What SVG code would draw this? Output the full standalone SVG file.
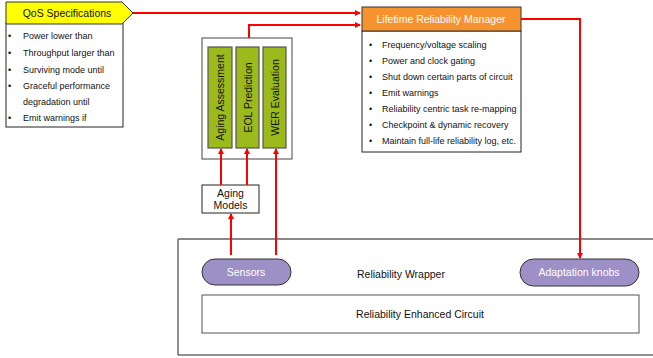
<svg xmlns="http://www.w3.org/2000/svg" width="653" height="358" viewBox="0 0 653 358">
<defs>
<marker id="ah" markerWidth="6" markerHeight="6" refX="5" refY="3" orient="auto" markerUnits="userSpaceOnUse"><path d="M0,0 L6,3 L0,6 Z" fill="#FF0000"/></marker>
<style>
text{font-family:"Liberation Sans",Arial,sans-serif;fill:#111;}
.t9{font-size:9px;}
.t10{font-size:10.5px;}
.wt{fill:#fff;}
.box{fill:#fff;stroke:#222;stroke-width:1;}
.green{fill:#9CBA1C;stroke:#555;stroke-width:1.2;}
.purple{fill:#9D90C6;stroke:#333;stroke-width:1;}
.con{fill:none;stroke:#FF0000;stroke-width:2;}
</style>
</defs>
<rect width="653" height="358" fill="#fff"/>

<g id="wrapper">
<path d="M654,239 L178,239 L178,355 L654,355" fill="#fff" stroke="#222" stroke-width="1"/>
<line x1="178" y1="239" x2="653" y2="239" stroke="#888" stroke-width="2"/>
<text class="t10" x="401" y="278" text-anchor="middle">Reliability Wrapper</text>
</g>

<g id="circuit">
<rect x="202" y="295" width="437" height="38" fill="#fff" stroke="#555" stroke-width="1"/>
<text class="t10" x="420" y="318" text-anchor="middle">Reliability Enhanced Circuit</text>
</g>

<g id="sensors">
<rect x="202" y="259" width="89" height="26" rx="13" class="purple"/>
<text class="t10 wt" x="246" y="276" text-anchor="middle">Sensors</text>
</g>

<g id="knobs">
<rect x="520" y="259" width="119" height="27" rx="13.5" class="purple"/>
<text class="t10 wt" x="579" y="276" text-anchor="middle">Adaptation knobs</text>
</g>

<g id="qos">
<rect x="6" y="23" width="117" height="104" class="box"/>
<polygon points="6,2 122,2 133,13 122,24 6,24" fill="#FFFF00" stroke="#333" stroke-width="1"/>
<text class="t10" x="67" y="17" text-anchor="middle">QoS Specifications</text>
<g class="t9">
<text x="8" y="39">•</text><text x="23" y="39">Power lower than</text>
<text x="8" y="56">•</text><text x="23" y="56">Throughput larger than</text>
<text x="8" y="73">•</text><text x="23" y="73">Surviving mode until</text>
<text x="8" y="89">•</text><text x="23" y="89">Graceful performance</text>
<text x="23" y="105">degradation until</text>
<text x="8" y="121">•</text><text x="23" y="121">Emit warnings if</text>
</g>
</g>

<g id="lrm">
<rect x="362" y="31" width="159" height="121" class="box"/>
<rect x="362" y="7" width="159" height="24" fill="#F7932E" stroke="#333" stroke-width="1"/>
<text class="t10 wt" x="441" y="23" text-anchor="middle">Lifetime Reliability Manager</text>
<g class="t9">
<text x="369" y="48">•</text><text x="382" y="48">Frequency/voltage scaling</text>
<text x="369" y="64">•</text><text x="382" y="64">Power and clock gating</text>
<text x="369" y="80">•</text><text x="382" y="80">Shut down certain parts of circuit</text>
<text x="369" y="96">•</text><text x="382" y="96">Emit warnings</text>
<text x="369" y="112">•</text><text x="382" y="112">Reliability centric task re-mapping</text>
<text x="369" y="128">•</text><text x="382" y="128">Checkpoint &amp; dynamic recovery</text>
<text x="369" y="144">•</text><text x="382" y="144">Maintain full-life reliability log, etc.</text>
</g>
</g>

<g id="aging-block">
<rect x="202" y="38" width="90" height="121" fill="#fff" stroke="#444" stroke-width="1"/>
</g>
<g id="aging-assessment">
<rect x="208" y="47" width="24" height="101" class="green"/>
<text class="t10" transform="translate(224,97.5) rotate(-90)" text-anchor="middle">Aging Assessment</text>
</g>
<g id="eol">
<rect x="236" y="47" width="23" height="101" class="green"/>
<text class="t10" transform="translate(251.5,97.5) rotate(-90)" text-anchor="middle">EOL Prediction</text>
</g>
<g id="wer">
<rect x="263" y="47" width="23" height="101" class="green"/>
<text class="t10" transform="translate(278.5,97.5) rotate(-90)" text-anchor="middle">WER Evaluation</text>
</g>

<g id="aging-models">
<rect x="202" y="185" width="57" height="28" class="box" stroke="#444"/>
<text class="t10" x="230.5" y="197" text-anchor="middle">Aging</text>
<text class="t10" x="230.5" y="209" text-anchor="middle">Models</text>
</g>

<g id="connectors">
<line class="con" x1="133" y1="13" x2="360" y2="13" marker-end="url(#ah)"/>
<polyline class="con" points="249,38 249,25 360,25" marker-end="url(#ah)"/>
<polyline class="con" points="521,19 580,19 580,258" marker-end="url(#ah)"/>
<line class="con" x1="221" y1="185" x2="221" y2="149" marker-end="url(#ah)"/>
<line class="con" x1="247" y1="185" x2="247" y2="149" marker-end="url(#ah)"/>
<line class="con" x1="276" y1="255" x2="276" y2="149" marker-end="url(#ah)"/>
<line class="con" x1="231" y1="255" x2="231" y2="214" marker-end="url(#ah)"/>
</g>
</svg>
